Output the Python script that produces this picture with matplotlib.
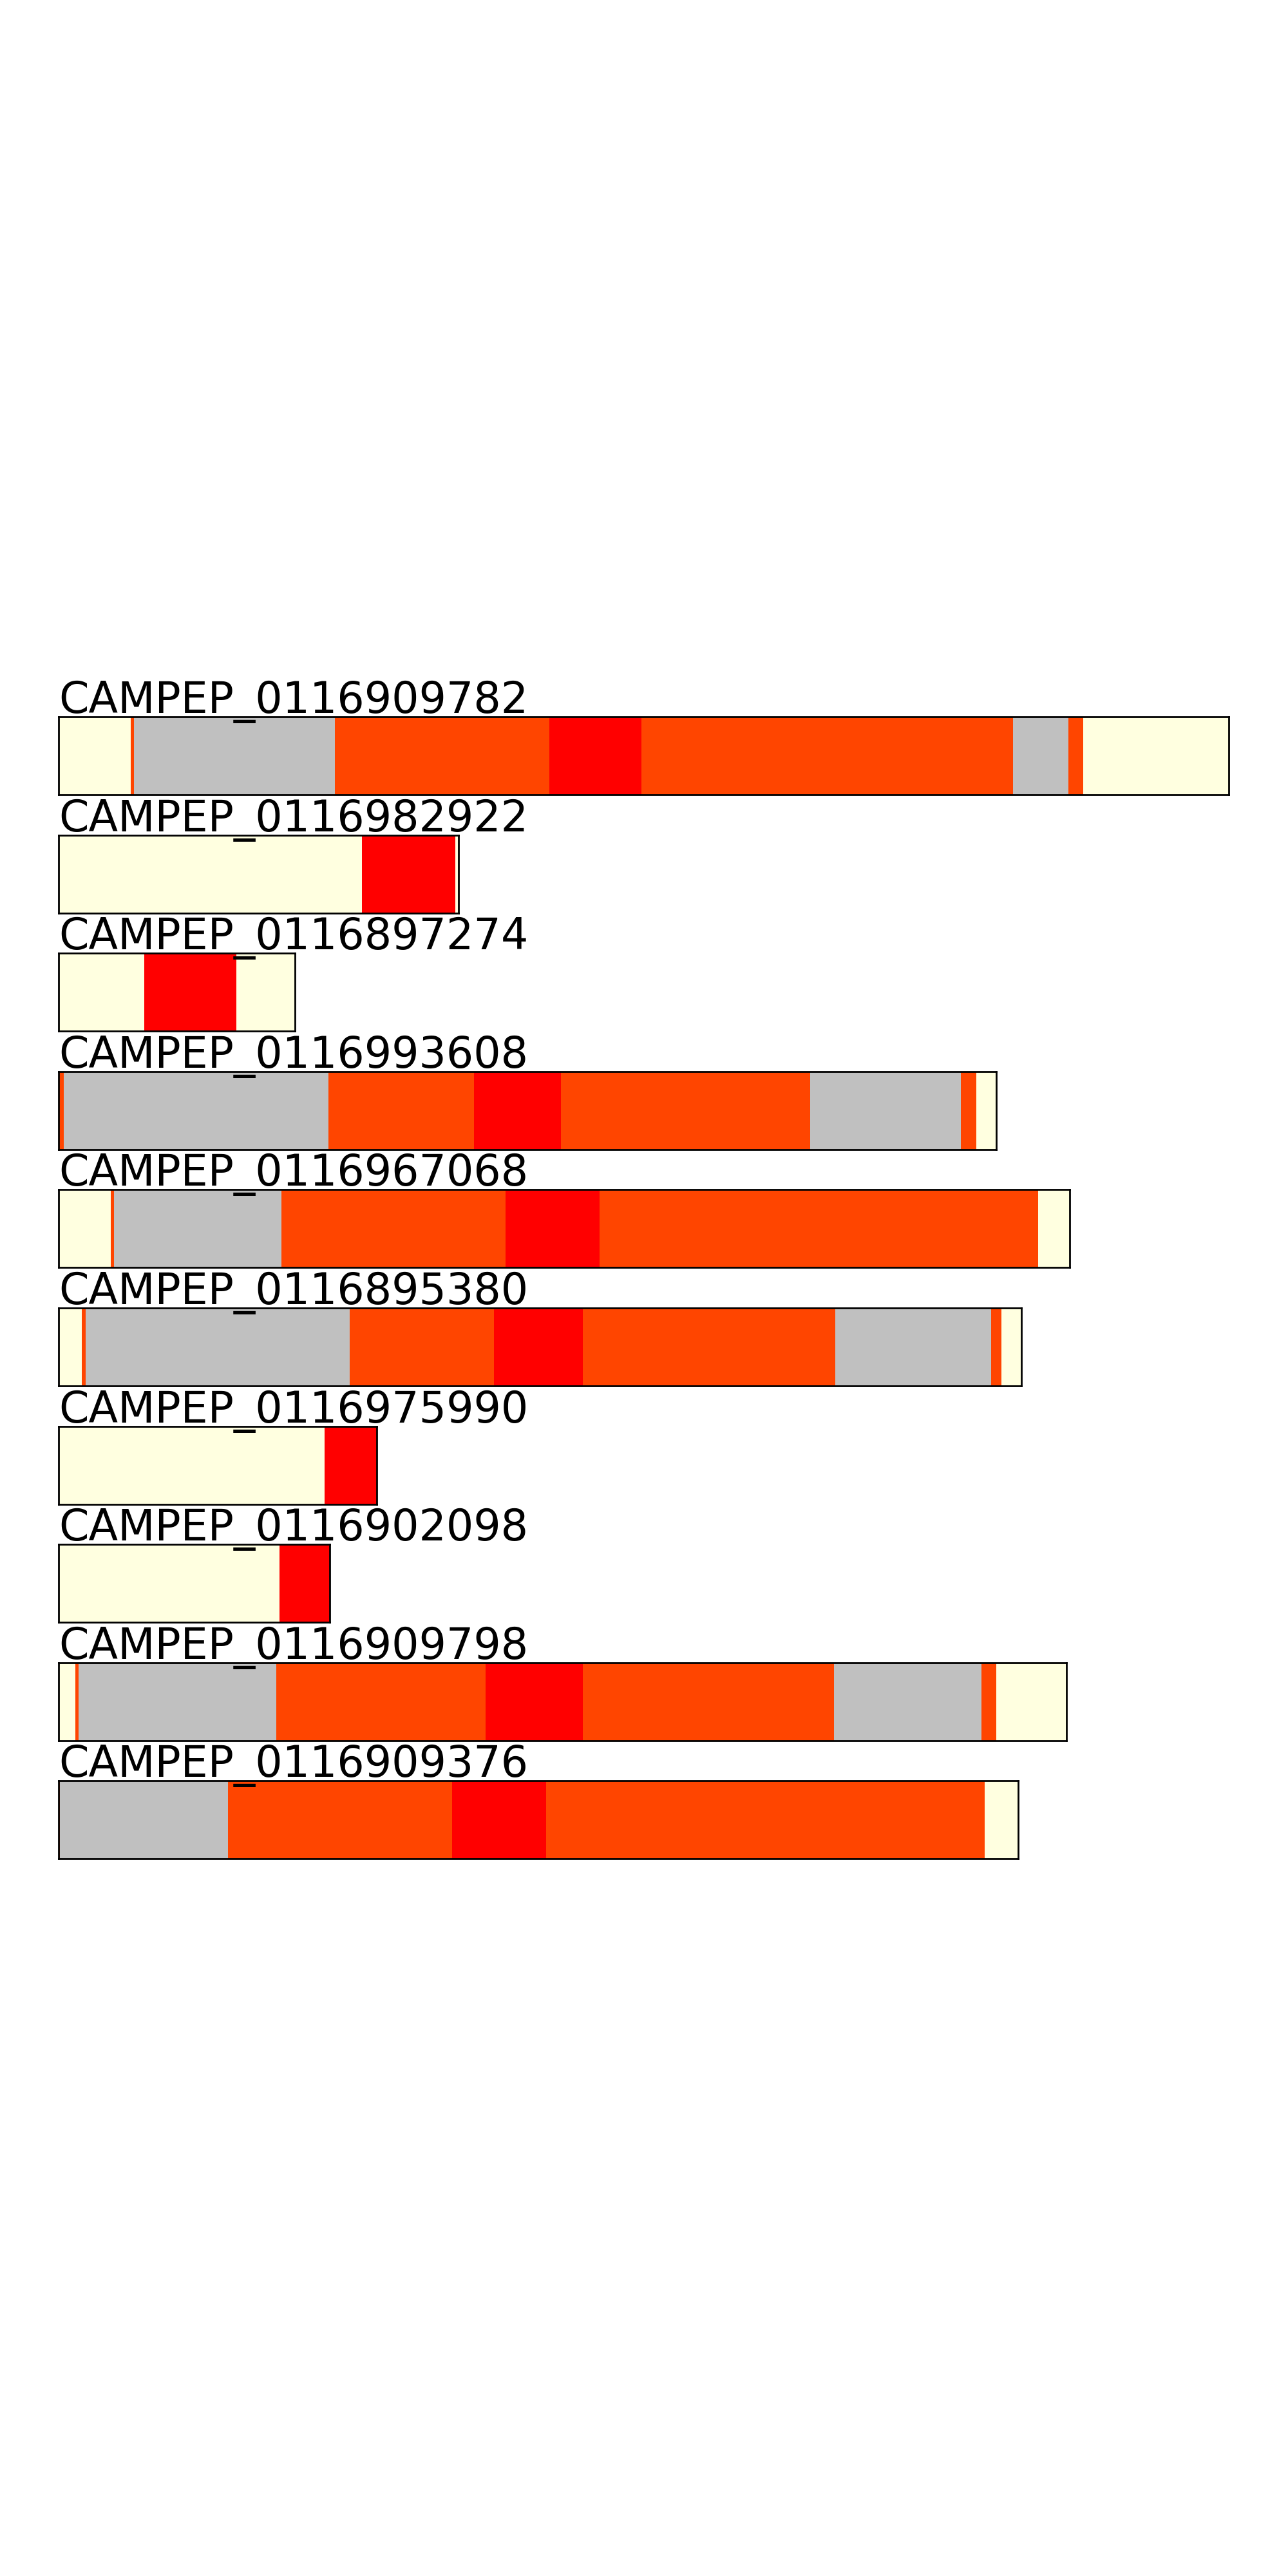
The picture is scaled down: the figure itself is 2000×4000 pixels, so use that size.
import matplotlib
matplotlib.use("Agg")
import matplotlib.pyplot as plt

# protein identifiers (top to bottom)
names = [
    "CAMPEP_0116909782",
    "CAMPEP_0116982922",
    "CAMPEP_0116897274",
    "CAMPEP_0116993608",
    "CAMPEP_0116967068",
    "CAMPEP_0116895380",
    "CAMPEP_0116975990",
    "CAMPEP_0116902098",
    "CAMPEP_0116909798",
    "CAMPEP_0116909376",
]

# segment boundaries (residue positions) for each protein
bounds_0 = [0, 43, 45, 165, 293, 348, 570, 603, 612, 699]
types_0 = ["none", "o", "g", "o", "r", "o", "g", "o", "none"]
bounds_1 = [0, 181, 237, 239]
types_1 = ["none", "r", "none"]
bounds_2 = [0, 51, 106, 141]
types_2 = ["none", "r", "none"]
bounds_3 = [0, 3, 161, 248, 300, 449, 539, 548, 560]
types_3 = ["o", "g", "o", "r", "o", "g", "o", "none"]
bounds_4 = [0, 31, 33, 133, 267, 323, 585, 604]
types_4 = ["none", "o", "g", "o", "r", "o", "none"]
bounds_5 = [0, 14, 16, 174, 260, 313, 464, 557, 563, 575]
types_5 = ["none", "o", "g", "o", "r", "o", "g", "o", "none"]
bounds_6 = [0, 159, 190]
types_6 = ["none", "r"]
bounds_7 = [0, 132, 162]
types_7 = ["none", "r"]
bounds_8 = [0, 10, 12, 130, 255, 313, 463, 551, 560, 602]
types_8 = ["none", "o", "g", "o", "r", "o", "g", "o", "none"]
bounds_9 = [0, 0.6, 101, 235, 291, 553, 573]
types_9 = ["o", "g", "o", "r", "o", "none"]

all_bounds = [bounds_0, bounds_1, bounds_2, bounds_3, bounds_4,
              bounds_5, bounds_6, bounds_7, bounds_8, bounds_9]
all_types = [types_0, types_1, types_2, types_3, types_4,
             types_5, types_6, types_7, types_8, types_9]

type_colors = {"none": "lightyellow", "o": "orangered", "r": "red", "g": "silver"}

W, H = 2000, 4000
fig = plt.figure(figsize=(10, 20), dpi=200)

px_per_res = 2.6
left_px = 91
top0_px = 1113
pitch_px = 183.6
height_px = 121

for i, (name, b, t) in enumerate(zip(names, all_bounds, all_types)):
    L = b[-1]
    top = top0_px + pitch_px * i
    ax = fig.add_axes([left_px / W, 1 - (top + height_px) / H,
                       L * px_per_res / W, height_px / H])
    starts = b[:-1]
    widths = [e - s for s, e in zip(b[:-1], b[1:])]
    cols = [type_colors[k] for k in t]
    ax.barh([0.5] * len(starts), widths, left=starts, height=1.0,
            color=cols, edgecolor="none", linewidth=0)
    ax.set_xlim(0, L)
    ax.set_ylim(0, 1)
    ax.set_xticks([])
    ax.set_yticks([])
    for sp in ax.spines.values():
        sp.set_linewidth(1.0)
    ax.text(0, 1.05, name, transform=ax.transAxes, fontsize=24,
            va="baseline", ha="left", zorder=5)

fig.savefig("out.png", dpi=200)
